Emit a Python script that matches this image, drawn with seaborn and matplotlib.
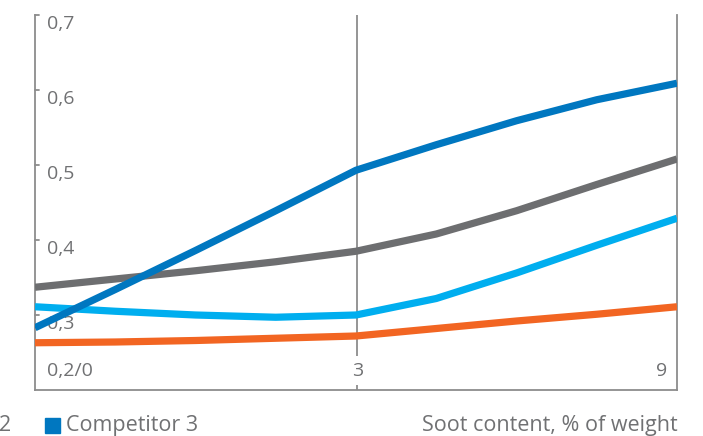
import seaborn as sns
import matplotlib.pyplot as plt
import pandas as pd

# data (x in axis units: 0 -> "0,2/0", 1 -> "3", 2 -> "9")
x_pos = [0, 0.25, 0.5, 0.75, 1, 1.25, 1.5, 1.75, 2]
competitor_3 = [0.283, 0.334, 0.386, 0.439, 0.493, 0.527, 0.559, 0.587, 0.609]
grey_series = [0.337, 0.348, 0.359, 0.371, 0.385, 0.408, 0.439, 0.474, 0.508]
cyan_series = [0.311, 0.305, 0.300, 0.297, 0.300, 0.322, 0.356, 0.393, 0.429]
orange_series = [0.263, 0.264, 0.266, 0.269, 0.272, 0.282, 0.292, 0.301, 0.311]

series_names = ["Competitor 1", "Competitor 2", "Product", "Competitor 3"]
palette = {"Competitor 1": "#f26522", "Competitor 2": "#00aeef",
           "Product": "#6d6e70", "Competitor 3": "#0077c0"}
y_ticks = [0.3, 0.4, 0.5, 0.6, 0.7]
y_labels = ["0,3", "0,4", "0,5", "0,6", "0,7"]
x_labels = ["0,2/0", "3", "9"]

rows = []
for name, vals in zip(series_names, [orange_series, cyan_series, grey_series, competitor_3]):
    for x, v in zip(x_pos, vals):
        rows.append({"x": x, "y": v, "series": name})
df = pd.DataFrame(rows)

sns.set_style("white")
plt.rcParams["font.family"] = ["Open Sans", "DejaVu Sans"]
txt = "#707173"
axis_c = "#8c8c8c"
fs_tick = 14
fs_bottom = 15.5

fig = plt.figure(figsize=(7.03, 4.36), dpi=100)
ax = fig.add_axes([35 / 703, 1 - 390 / 436, 642 / 703, 375 / 436])

# 1 | gridline in the middle, below the curves
ax.axvline(1.0045, color=axis_c, lw=1.3, zorder=1)

# 2 | curves
sns.lineplot(data=df, x="x", y="y", hue="series", palette=palette,
             hue_order=series_names, lw=5.2, legend=False, ax=ax,
             zorder=3, solid_capstyle="butt", solid_joinstyle="round")

ax.set_xlim(0, 2)
ax.set_ylim(0.2, 0.7)
ax.set_xlabel("")
ax.set_ylabel("")
ax.set_xticks([])
ax.set_yticks([])
ax.spines["top"].set_visible(False)
for s in ["left", "right", "bottom"]:
    ax.spines[s].set_color(axis_c)
    ax.spines[s].set_linewidth(1.3)

# 3 | y labels inside the plot, with small inward ticks
for v, lab in zip(y_ticks, y_labels):
    ax.plot([0, 0.012], [v, v], color=axis_c, lw=1.3, zorder=2, clip_on=False)
    ax.text(0.036, v - 0.012, lab, ha="left", va="center", fontsize=fs_tick,
            color=txt, zorder=2)

# 4 | x labels
ax.text(0.036, 0.226, x_labels[0], ha="left", va="center", fontsize=fs_tick,
        color=txt, zorder=2)
ax.text(1.0045, 0.226, x_labels[1], ha="center", va="center", fontsize=fs_tick,
        color=txt, zorder=2,
        bbox=dict(facecolor="white", edgecolor="none", pad=4))
ax.text(1.97, 0.226, x_labels[2], ha="right", va="center", fontsize=fs_tick,
        color=txt, zorder=2)

# 5 | cut-off legend and axis title at the bottom
fig.text(-1 / 703, 1 - 425 / 436, "2", ha="left", va="center", fontsize=fs_bottom,
         color=txt)
fig.patches.append(plt.Rectangle((45 / 703, 1 - 433 / 436), 15 / 703, 15 / 436,
                                 transform=fig.transFigure, color="#0077c0"))
fig.text(66 / 703, 1 - 425 / 436, "Competitor 3", ha="left", va="center",
         fontsize=fs_bottom, color=txt)
fig.text(678 / 703, 1 - 425 / 436, "Soot content, % of weight", ha="right",
         va="center", fontsize=fs_bottom, color=txt)

fig.savefig("out.png", dpi=100)
plt.close(fig)
